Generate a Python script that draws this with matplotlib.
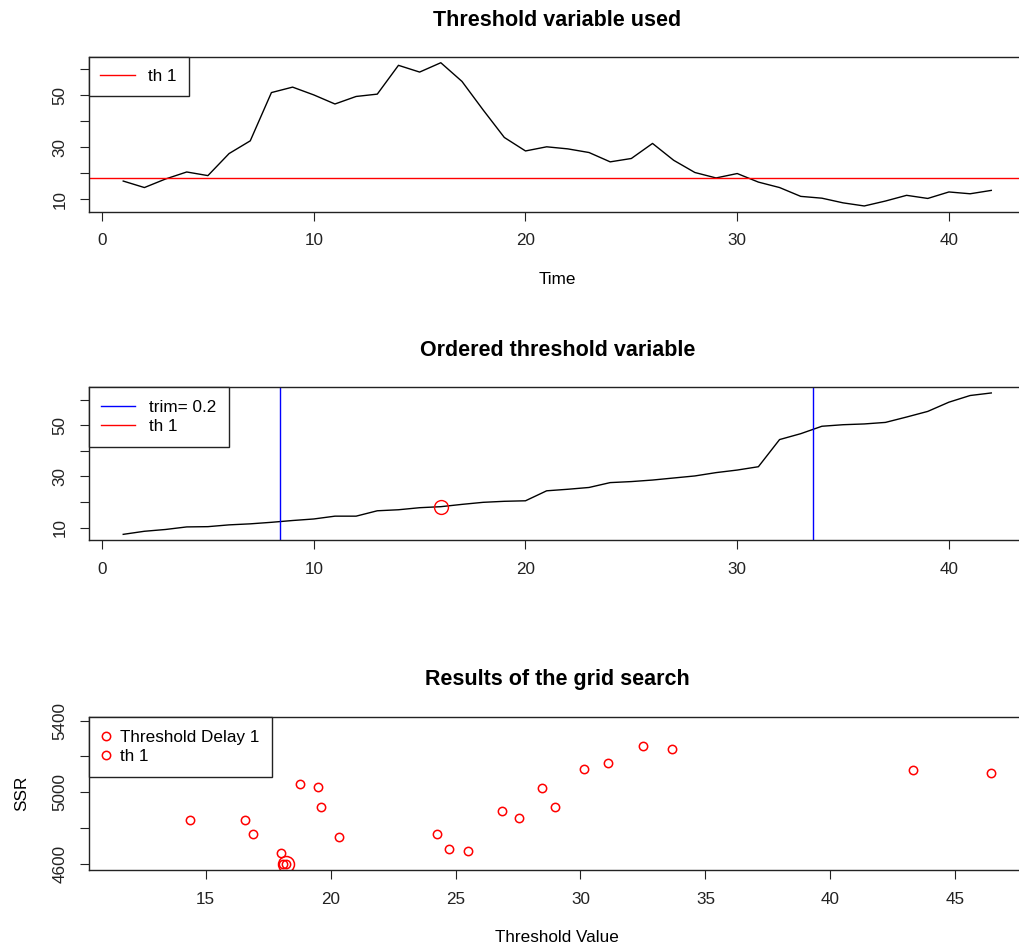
import matplotlib

matplotlib.use('Agg')

import numpy as np
import matplotlib.pyplot as plt
from matplotlib.lines import Line2D

plt.rcParams['font.family'] = ['Liberation Sans', 'DejaVu Sans']

# threshold variable (time order)
threshold_var = [17.0, 14.5, 17.8, 20.5, 19.1, 27.6, 32.5, 51.1, 53.2, 50.2,
                 46.7, 49.6, 50.5, 61.6, 59.0, 62.6, 55.4, 44.4, 33.8, 28.6,
                 30.2, 29.4, 28.0, 24.4, 25.7, 31.5, 25.0, 20.3, 18.2, 19.9,
                 16.6, 14.5, 11.1, 10.4, 8.6, 7.4, 9.3, 11.5, 10.3, 12.8,
                 12.1, 13.4]
th = 18.2
trim = 0.2

# grid search results
grid_th = [11.7, 14.37, 16.58, 16.91, 18.02, 18.1, 18.2, 18.79, 19.51, 19.63,
           20.35, 24.27, 24.74, 25.51, 26.87, 27.54, 28.44, 28.97, 30.15,
           31.12, 32.49, 33.65, 43.3, 46.44]
grid_ssr = [5390, 4843, 4843, 4764, 4663, 4601, 4597, 5045, 5028, 4918,
            4749, 4764, 4680, 4673, 4893, 4858, 5021, 4918, 5131,
            5164, 5258, 5241, 5123, 5107]
best_ssr = 4597

W, H = 1019, 949
LEFT, RIGHT = 88.5, 1026
FS = 12.3
TFS = 15.5


def r_lim(values):
    lo, hi = min(values), max(values)
    ext = 0.04 * (hi - lo)
    return lo - ext, hi + ext


def add_panel(fig, top, bottom):
    ax = fig.add_axes([LEFT / W, 1 - bottom / H, (RIGHT - LEFT) / W, (bottom - top) / H])
    for side in ['top', 'right', 'left', 'bottom']:
        ax.spines[side].set_linewidth(1.0)
        ax.spines[side].set_color('#222222')
    ax.tick_params(direction='out', length=6.5, width=0.8, labelsize=FS,
                   color='#222222', labelcolor='#222222')
    ax.tick_params(axis='x', pad=9)
    ax.tick_params(axis='y', labelrotation=90, pad=8.5)
    return ax


def y_labels(ax, ticks, shown):
    ax.set_yticks(ticks)
    ax.set_yticklabels([str(t) if t in shown else '' for t in ticks], va='center')


def box_legend(ax, handles, labels, **kw):
    leg = ax.legend(handles, labels, loc='upper left', borderaxespad=0,
                    fancybox=False, framealpha=1, edgecolor='#222222',
                    fontsize=FS, **kw)
    leg.get_frame().set_linewidth(1.0)
    return leg


fig = plt.figure(figsize=(W / 100, H / 100), dpi=100)
cx = (LEFT + RIGHT) / 2 / W

time = np.arange(1, len(threshold_var) + 1)
ordered = np.sort(threshold_var)

# panel 1
ax1 = add_panel(fig, 57, 211.7)
ax1.plot(time, threshold_var, color='black', lw=1.0)
ax1.axhline(th, color='#ff0000', lw=1.0)
ax1.set_xlim(r_lim(time))
ax1.set_ylim(r_lim(threshold_var))
ax1.set_xticks([0, 10, 20, 30, 40])
y_labels(ax1, [10, 20, 30, 40, 50, 60], [10, 30, 50])
box_legend(ax1, [Line2D([], [], color='#ff0000', lw=1.0)], ['th 1'],
           handlelength=2.0, handletextpad=0.8, borderpad=0.7)
fig.text(cx, 1 - 20 / H, 'Threshold variable used', ha='center', va='center',
         fontsize=TFS, fontweight='bold')
fig.text(cx, 1 - 279 / H, 'Time', ha='center', va='center', fontsize=FS)

# panel 2
ax2 = add_panel(fig, 387.3, 540)
ax2.plot(time, ordered, color='black', lw=1.0)
n = len(threshold_var)
ax2.axvline(n * trim, color='#0000ff', lw=1.0)
ax2.axvline(n * (1 - trim), color='#0000ff', lw=1.0)
th_idx = np.searchsorted(ordered, th) + 1
ax2.plot([th_idx], [th], 'o', mfc='none', mec='#ff0000', ms=10, mew=1.0)
ax2.set_xlim(r_lim(time))
ax2.set_ylim(r_lim(ordered))
ax2.set_xticks([0, 10, 20, 30, 40])
y_labels(ax2, [10, 20, 30, 40, 50, 60], [10, 30, 50])
box_legend(ax2, [Line2D([], [], color='#0000ff', lw=1.0),
                 Line2D([], [], color='#ff0000', lw=1.0)],
           ['trim= 0.2', 'th 1'],
           handlelength=2.0, handletextpad=0.8, borderpad=0.75, labelspacing=0.25)
fig.text(cx, 1 - 351 / H, 'Ordered threshold variable', ha='center', va='center',
         fontsize=TFS, fontweight='bold')

# panel 3
ax3 = add_panel(fig, 716.7, 870)
ax3.plot(grid_th, grid_ssr, 'o', mfc='none', mec='#ff0000', ms=6, mew=1.1)
ax3.plot([th], [best_ssr], 'o', mfc='none', mec='#ff0000', ms=11.5, mew=1.1)
ax3.set_xlim(r_lim(grid_th))
ax3.set_ylim(r_lim(grid_ssr))
ax3.set_xticks([15, 20, 25, 30, 35, 40, 45])
y_labels(ax3, [4600, 4800, 5000, 5200, 5400], [4600, 5000, 5400])
pt = dict(marker='o', ls='none', mfc='none', mec='#ff0000', ms=6, mew=1.1)
box_legend(ax3, [Line2D([], [], **pt), Line2D([], [], **pt)],
           ['Threshold Delay 1', 'th 1'],
           handlelength=0.6, handletextpad=0.5, borderpad=0.75, labelspacing=0.25)
fig.text(cx, 1 - 679 / H, 'Results of the grid search', ha='center', va='center',
         fontsize=TFS, fontweight='bold')
fig.text(cx, 1 - 937 / H, 'Threshold Value', ha='center', va='center', fontsize=FS)
fig.text(22 / W, 1 - 793 / H, 'SSR', ha='center', va='center', rotation=90, fontsize=FS)

fig.savefig('out.png', dpi=100)
